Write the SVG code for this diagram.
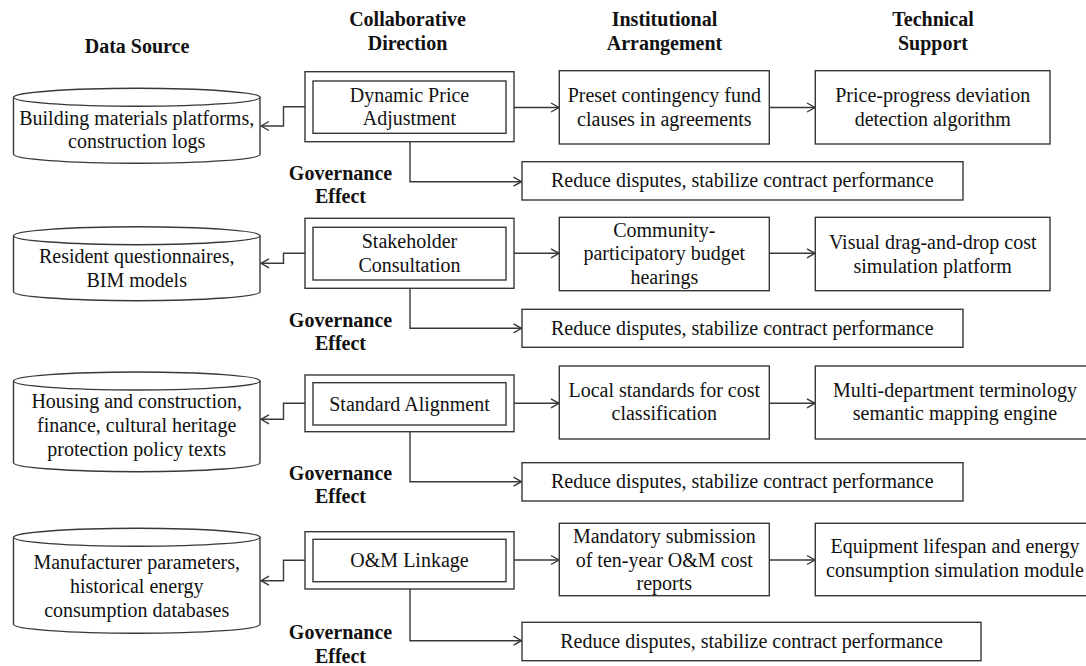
<svg xmlns="http://www.w3.org/2000/svg" width="1086" height="666" viewBox="0 0 1086 666">
<defs>
<style>
.b{fill:#fff;stroke:#383838;stroke-width:1.4}
.c{fill:none;stroke:#383838;stroke-width:1.4}
.t{font-family:"Liberation Serif","Times New Roman",serif;font-size:20px;fill:#111;text-anchor:middle}
.h{font-family:"Liberation Serif","Times New Roman",serif;font-size:20px;font-weight:bold;fill:#111;text-anchor:middle}
</style>
<marker id="arr" viewBox="-10 -6 12 12" refX="0" refY="0" markerWidth="12" markerHeight="12" markerUnits="userSpaceOnUse" orient="auto">
<path d="M-8,-4.5 L0,0 L-8,4.5" fill="none" stroke="#383838" stroke-width="1.4"/>
</marker>
</defs>
<rect width="1086" height="666" fill="#fff"/>

<g id="headers">
<text class="h" x="137" y="53">Data Source</text>
<text class="h" x="407.5" y="26">Collaborative</text>
<text class="h" x="407.5" y="50">Direction</text>
<text class="h" x="664.5" y="26">Institutional</text>
<text class="h" x="664.5" y="50">Arrangement</text>
<text class="h" x="933" y="26">Technical</text>
<text class="h" x="933" y="50">Support</text>
</g>

<g id="connectors" class="c">
<polyline points="305,106.7 283.5,106.7 283.5,126 261,126" marker-end="url(#arr)"/>
<line x1="514" y1="107.5" x2="559" y2="107.5" marker-end="url(#arr)"/>
<line x1="769.3" y1="107.5" x2="815" y2="107.5" marker-end="url(#arr)"/>
<polyline points="410,141.7 410,181.7 521.5,181.7" marker-end="url(#arr)"/>

<polyline points="305,253.3 283.5,253.3 283.5,263.3 261,263.3" marker-end="url(#arr)"/>
<line x1="514" y1="253.3" x2="559" y2="253.3" marker-end="url(#arr)"/>
<line x1="769.3" y1="253.3" x2="815" y2="253.3" marker-end="url(#arr)"/>
<polyline points="410,288.3 410,328.3 521.5,328.3" marker-end="url(#arr)"/>

<polyline points="305,403.3 283.5,403.3 283.5,419.3 261,419.3" marker-end="url(#arr)"/>
<line x1="514" y1="403.3" x2="559" y2="403.3" marker-end="url(#arr)"/>
<line x1="769.3" y1="403.3" x2="815" y2="403.3" marker-end="url(#arr)"/>
<polyline points="410,431.7 410,481.7 521.5,481.7" marker-end="url(#arr)"/>

<polyline points="305,560.3 283.5,560.3 283.5,580.7 261,580.7" marker-end="url(#arr)"/>
<line x1="514" y1="560" x2="559" y2="560" marker-end="url(#arr)"/>
<line x1="769.3" y1="560" x2="815" y2="560" marker-end="url(#arr)"/>
<polyline points="410,589 410,640.7 521.5,640.7" marker-end="url(#arr)"/>
</g>

<!-- Row 1 -->
<g id="ds1">
<path class="b" d="M13.5,97.3 L13.5,154.3 A123.25,9 0 0 0 260,154.3 L260,97.3"/>
<ellipse class="b" cx="136.75" cy="97.3" rx="123.25" ry="9"/>
<text class="t" x="136.7" y="125">Building materials platforms,</text>
<text class="t" x="136.7" y="148.3">construction logs</text>
</g>
<g id="cd1">
<rect class="b" x="305" y="71.7" width="209" height="70"/>
<rect class="b" x="313" y="81" width="193" height="52.3"/>
<text class="t" x="409.5" y="101.7">Dynamic Price</text>
<text class="t" x="409.5" y="125">Adjustment</text>
</g>
<g id="ia1">
<rect class="b" x="559.3" y="70.7" width="210" height="73.3"/>
<text class="t" x="664.3" y="101.7">Preset contingency fund</text>
<text class="t" x="664.3" y="125.5">clauses in agreements</text>
</g>
<g id="ts1">
<rect class="b" x="815.3" y="70.7" width="234.7" height="73.3"/>
<text class="t" x="932.7" y="101.7">Price-progress deviation</text>
<text class="t" x="932.7" y="125.5">detection algorithm</text>
</g>
<g id="ge1">
<text class="h" x="340.5" y="179.5">Governance</text>
<text class="h" x="340.5" y="203">Effect</text>
<rect class="b" x="522" y="161.7" width="441" height="38.3"/>
<text class="t" x="742.3" y="187.3">Reduce disputes, stabilize contract performance</text>
</g>

<!-- Row 2 -->
<g id="ds2">
<path class="b" d="M13.5,235.7 L13.5,291.7 A123.25,9 0 0 0 260,291.7 L260,235.7"/>
<ellipse class="b" cx="136.75" cy="235.7" rx="123.25" ry="9"/>
<text class="t" x="136.7" y="263.3">Resident questionnaires,</text>
<text class="t" x="136.7" y="286.7">BIM models</text>
</g>
<g id="cd2">
<rect class="b" x="305" y="218.3" width="209" height="70"/>
<rect class="b" x="313" y="227.3" width="193" height="52.7"/>
<text class="t" x="409.5" y="248.3">Stakeholder</text>
<text class="t" x="409.5" y="271.7">Consultation</text>
</g>
<g id="ia2">
<rect class="b" x="559.3" y="217.3" width="210" height="73.4"/>
<text class="t" x="664.3" y="236.7">Community-</text>
<text class="t" x="664.3" y="260.3">participatory budget</text>
<text class="t" x="664.3" y="283.7">hearings</text>
</g>
<g id="ts2">
<rect class="b" x="815.3" y="217.3" width="234.7" height="73.4"/>
<text class="t" x="932.7" y="249.3">Visual drag-and-drop cost</text>
<text class="t" x="932.7" y="272.7">simulation platform</text>
</g>
<g id="ge2">
<text class="h" x="340.5" y="326.7">Governance</text>
<text class="h" x="340.5" y="350">Effect</text>
<rect class="b" x="522" y="309.3" width="441" height="38"/>
<text class="t" x="742.3" y="335">Reduce disputes, stabilize contract performance</text>
</g>

<!-- Row 3 -->
<g id="ds3">
<path class="b" d="M13.5,381 L13.5,462.7 A123.25,9 0 0 0 260,462.7 L260,381"/>
<ellipse class="b" cx="136.75" cy="381" rx="123.25" ry="9"/>
<text class="t" x="136.7" y="408.3">Housing and construction,</text>
<text class="t" x="136.7" y="432.3">finance, cultural heritage</text>
<text class="t" x="136.7" y="456">protection policy texts</text>
</g>
<g id="cd3">
<rect class="b" x="305" y="375" width="209" height="56.7"/>
<rect class="b" x="313" y="382.7" width="193" height="42.3"/>
<text class="t" x="409.5" y="410.7">Standard Alignment</text>
</g>
<g id="ia3">
<rect class="b" x="559.3" y="366" width="210" height="73"/>
<text class="t" x="664.3" y="396.7">Local standards for cost</text>
<text class="t" x="664.3" y="420">classification</text>
</g>
<g id="ts3">
<rect class="b" x="815.3" y="366" width="280" height="73"/>
<text class="t" x="955" y="396.7">Multi-department terminology</text>
<text class="t" x="955" y="420">semantic mapping engine</text>
</g>
<g id="ge3">
<text class="h" x="340.5" y="480">Governance</text>
<text class="h" x="340.5" y="503.3">Effect</text>
<rect class="b" x="522" y="462.7" width="441" height="38.3"/>
<text class="t" x="742.3" y="488.3">Reduce disputes, stabilize contract performance</text>
</g>

<!-- Row 4 -->
<g id="ds4">
<path class="b" d="M13.5,537.3 L13.5,624.3 A123.25,9 0 0 0 260,624.3 L260,537.3"/>
<ellipse class="b" cx="136.75" cy="537.3" rx="123.25" ry="9"/>
<text class="t" x="136.7" y="569.3">Manufacturer parameters,</text>
<text class="t" x="136.7" y="592.7">historical energy</text>
<text class="t" x="136.7" y="616.7">consumption databases</text>
</g>
<g id="cd4">
<rect class="b" x="305" y="531.7" width="209" height="57.3"/>
<rect class="b" x="313" y="539.3" width="193" height="42.4"/>
<text class="t" x="409.5" y="566.7">O&amp;M Linkage</text>
</g>
<g id="ia4">
<rect class="b" x="559.3" y="523.3" width="210" height="72.4"/>
<text class="t" x="664.3" y="543.3">Mandatory submission</text>
<text class="t" x="664.3" y="566.7">of ten-year O&amp;M cost</text>
<text class="t" x="664.3" y="590">reports</text>
</g>
<g id="ts4">
<rect class="b" x="815.3" y="523.3" width="280" height="72.4"/>
<text class="t" x="955" y="553.3">Equipment lifespan and energy</text>
<text class="t" x="955" y="577.3">consumption simulation module</text>
</g>
<g id="ge4">
<text class="h" x="340.5" y="639.3">Governance</text>
<text class="h" x="340.5" y="662.7">Effect</text>
<rect class="b" x="522" y="622.3" width="459" height="38.4"/>
<text class="t" x="751.5" y="648.3">Reduce disputes, stabilize contract performance</text>
</g>
</svg>
